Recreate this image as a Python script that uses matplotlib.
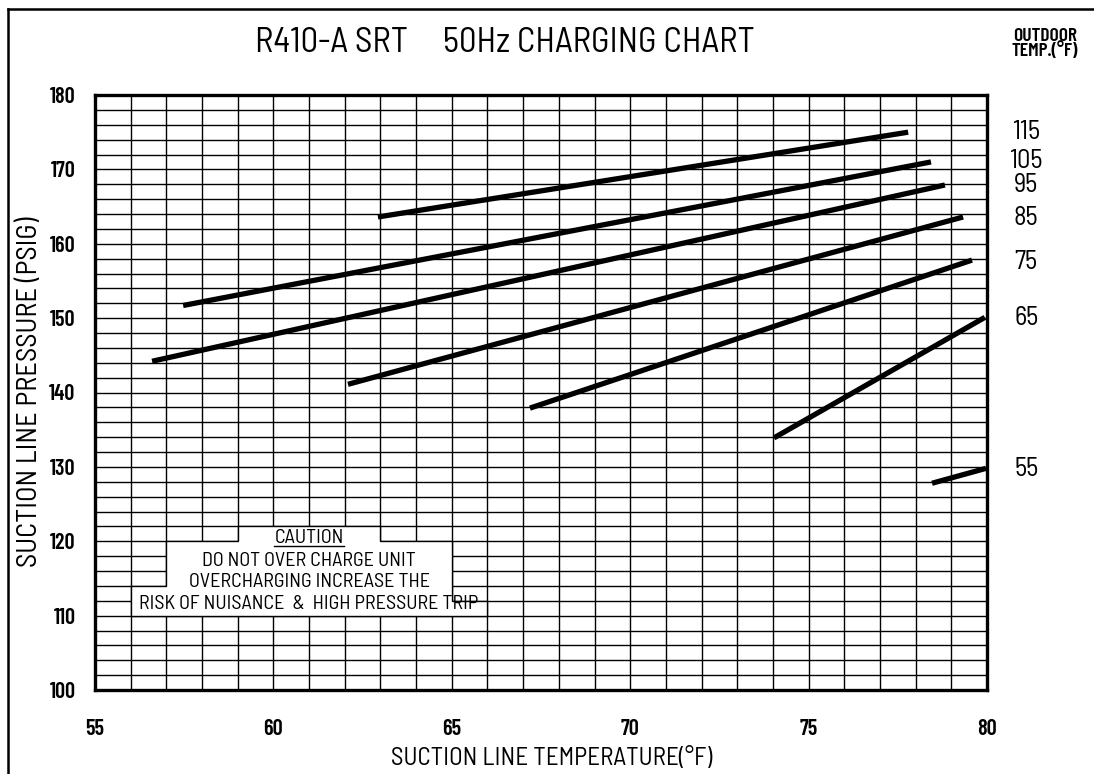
import matplotlib
matplotlib.use('Agg')
import matplotlib.pyplot as plt
from matplotlib.patches import Polygon
from matplotlib.lines import Line2D

# ---------------- data ----------------
outdoor_temps = ['115', '105', '95', '85', '75', '65', '55']
x_start = [62.93, 57.47, 56.60, 62.09, 67.19, 74.03, 78.46]
y_start = [163.6, 151.7, 144.2, 141.1, 137.9, 133.9, 127.8]
x_end = [77.79, 78.43, 78.82, 79.33, 79.58, 79.94, 79.97]
y_end = [175.0, 171.0, 167.9, 163.6, 157.8, 150.1, 129.8]
label_y = [175.0, 171.1, 167.9, 163.4, 157.5, 150.0, 129.7]

x_ticks = [55, 60, 65, 70, 75, 80]
y_ticks = [100, 110, 120, 130, 140, 150, 160, 170, 180]
x_grid = list(range(55, 81, 1))
y_grid = list(range(100, 181, 2))

caution_lines = ['DO NOT OVER CHARGE UNIT',
                 'OVERCHARGING INCREASE THE',
                 'RISK OF NUISANCE  &  HIGH PRESSURE TRIP']
caution_title = 'CAUTION'
caution_box_x = [56, 66, 66, 65, 65, 63, 63, 59, 59, 57, 57, 56]
caution_box_y = [110, 110, 112, 112, 120, 120, 122, 122, 120, 120, 114, 114]

# ---------------- fonts ----------------
plt.rcParams['font.family'] = ['Barlow Semi Condensed', 'DejaVu Sans']
NORMAL = 400
BOLD = 600
COND = ['Barlow Condensed', 'DejaVu Sans']

W, H = 1094, 774
fig = plt.figure(figsize=(W / 100, H / 100), dpi=100)
fig.patch.set_facecolor('white')

ax = fig.add_axes([95 / W, 1 - 690 / H, (987 - 95) / W, (690 - 95) / H])
ax.set_xlim(55, 80)
ax.set_ylim(100, 180)

# grid
for gx in x_grid:
    ax.axvline(gx, color='black', lw=1.0, zorder=1)
for gy in y_grid:
    ax.axhline(gy, color='black', lw=1.0, zorder=1)

# caution box
poly = Polygon(list(zip(caution_box_x, caution_box_y)), closed=True,
               facecolor='white', edgecolor='black', lw=1.0, zorder=2)
ax.add_patch(poly)

# charging lines
for xs, ys, xe, ye in zip(x_start, y_start, x_end, y_end):
    ax.plot([xs, xe], [ys, ye], color='black', lw=3.8, solid_capstyle='butt', zorder=4)

for t, ly in zip(outdoor_temps, label_y):
    ax.text(81.1, ly, t, ha='center', va='center', fontsize=19,
            fontweight=NORMAL, clip_on=False)

# caution text
ct = ax.text(61.0, 120.5, caution_title, ha='center', va='center',
             fontsize=14.5, fontweight=NORMAL, zorder=5)
cy = [117.4, 114.5, 111.5]
for line, yy in zip(caution_lines, cy):
    ax.text(61.0, yy, line, ha='center', va='center', fontsize=14.5,
            fontweight=NORMAL, zorder=5)

for s in ax.spines.values():
    s.set_linewidth(2.4)
    s.set_zorder(6)

ax.set_xticks(x_ticks)
ax.set_yticks(y_ticks)
ax.tick_params(length=0)
ax.tick_params(axis='x', pad=21, labelsize=16)
ax.tick_params(axis='y', pad=14, labelsize=16)
for lab in ax.get_xticklabels() + ax.get_yticklabels():
    lab.set_fontweight(BOLD)
    lab.set_family(COND)

fig.text(505 / W, 1 - 43 / H, 'R410-A SRT     50Hz CHARGING CHART',
         ha='center', va='center', fontsize=25, fontweight=NORMAL)
fig.text(1045 / W, 1 - 44 / H, 'OUTDOOR\nTEMP.(°F)', ha='center', va='center',
         fontsize=14, fontweight=BOLD, linespacing=0.8, family=COND)
fig.text(552 / W, 1 - 759 / H, 'SUCTION LINE TEMPERATURE(°F)', ha='center',
         va='center', fontsize=18, fontweight=NORMAL)
fig.text(30 / W, 1 - 392 / H, 'SUCTION LINE PRESSURE (PSIG)', ha='center',
         va='center', fontsize=20.5, fontweight=NORMAL, rotation=90)

# outer frame (top and left)
fig.add_artist(Line2D([8 / W, 8 / W], [0, 1 - 9 / H], transform=fig.transFigure,
                      color='black', lw=1.8))
fig.add_artist(Line2D([8 / W, 1], [1 - 9 / H, 1 - 9 / H], transform=fig.transFigure,
                      color='black', lw=1.8))

# underline CAUTION
fig.canvas.draw()
bb = ct.get_window_extent().transformed(fig.transFigure.inverted())
fig.add_artist(Line2D([bb.x0, bb.x1], [bb.y0 + 0.001, bb.y0 + 0.001],
                      transform=fig.transFigure, color='black', lw=1.0))

fig.savefig('out.png', dpi=100, facecolor='white')
